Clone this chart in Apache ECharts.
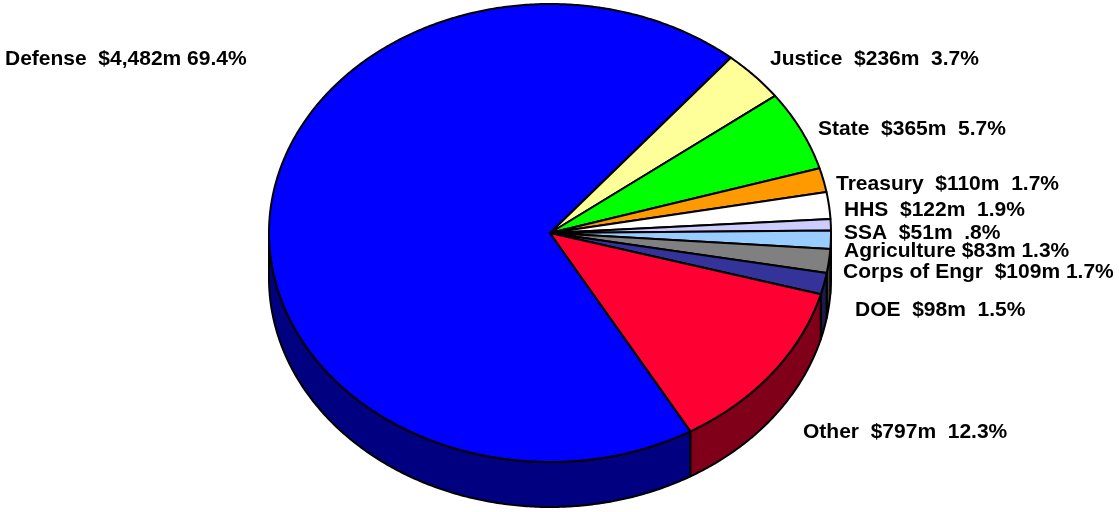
<!DOCTYPE html>
<html>
<head>
<meta charset="utf-8">
<script src="https://cdn.jsdelivr.net/npm/echarts@6/dist/echarts.min.js"></script>
<style>
html,body{margin:0;padding:0;background:#fff;}
#chart{width:1119px;height:512px;}
</style>
</head>
<body>
<div id="chart"></div>
<script>
// ---- data ----
const categories = ['Defense','Justice','State','Treasury','HHS','SSA','Agriculture','Corps of Engr','DOE','Other'];
const values = [4482, 236, 365, 110, 122, 51, 83, 109, 98, 797];
const percentLabels = ['69.4%','3.7%','5.7%','1.7%','1.9%','.8%','1.3%','1.7%','1.5%','12.3%'];
const labelTexts = [
  'Defense  $4,482m 69.4%',
  'Justice  $236m  3.7%',
  'State  $365m  5.7%',
  'Treasury  $110m  1.7%',
  'HHS  $122m  1.9%',
  'SSA  $51m  .8%',
  'Agriculture $83m 1.3%',
  'Corps of Engr  $109m 1.7%',
  'DOE  $98m  1.5%',
  'Other  $797m  12.3%'
];

// ---- styles / layout ----
const topColors  = ['#0000FF','#FFFF99','#00FF00','#FF9900','#FFFFFF','#CCCCFF','#99CCFF','#808080','#333399','#FF0033'];
const sideColors = ['#000080','#80804C','#008000','#804C00','#808080','#666680','#4C6680','#404040','#1A1A4C','#80001A'];
const labelAnchors = [[5,59.5],[770,59],[818,129],[836,184.5],[844,210],[844,233],[844,251],[843,272.5],[855,310.5],[803,432]];
const CX = 550, CY = 233, RX = 281, RY = 229, DEPTH = 45;
const START_DEG = 60; // screen angle (clockwise) where first slice starts

const total = values.reduce((a,b)=>a+b,0);
const cum = [];
values.reduce((acc,v,i)=>{cum[i]=acc;return acc+v;},0);

function angles(i, v){
  const a0 = (START_DEG*Math.PI/180) + cum[i]/total*2*Math.PI;
  const a1 = a0 + v/total*2*Math.PI;
  return [a0,a1];
}
function arcPts(a0,a1,dy){
  const pts=[];
  const n=Math.max(2,Math.ceil((a1-a0)/(Math.PI/360)));
  for(let k=0;k<=n;k++){
    const t=a0+(a1-a0)*k/n;
    pts.push([CX+RX*Math.cos(t), CY+RY*Math.sin(t)+dy]);
  }
  return pts;
}

const chart = echarts.init(document.getElementById('chart'), null, {renderer:'canvas'});
const data = categories.map((c,i)=>({name:c, value:values[i]}));

chart.setOption({
  backgroundColor:'#fff',
  animation:false,
  series:[
    {
      type:'custom',
      coordinateSystem:'none',
      silent:true,
      data:data,
      z:1,
      renderItem:function(params, api){
        const i=params.dataIndex;
        const v=api.value(0);
        let [a0,a1]=angles(i,v);
        const TWO=2*Math.PI;
        while(a0>=TWO){a0-=TWO;a1-=TWO;}
        const children=[];
        const ranges=[[0,Math.PI],[TWO,TWO+Math.PI]];
        ranges.forEach(r=>{
          const b0=Math.max(a0,r[0]), b1=Math.min(a1,r[1]);
          if(b1>b0){
            const top=arcPts(b0,b1,0);
            const bot=arcPts(b0,b1,DEPTH).reverse();
            children.push({
              type:'polygon',
              shape:{points:top.concat(bot)},
              style:{fill:sideColors[i], stroke:'#000', lineWidth:2, lineJoin:'round'}
            });
          }
        });
        return {type:'group', children:children};
      }
    },
    {
      type:'custom',
      coordinateSystem:'none',
      silent:true,
      data:data,
      z:2,
      renderItem:function(params, api){
        const i=params.dataIndex;
        const v=api.value(0);
        const [a0,a1]=angles(i,v);
        const pts=[[CX,CY]].concat(arcPts(a0,a1,0));
        return {type:'group', children:[
          {
            type:'polygon',
            shape:{points:pts},
            style:{fill:topColors[i], stroke:'#000', lineWidth:2, lineJoin:'round'}
          },
          {
            type:'text',
            style:{
              text:labelTexts[i],
              x:labelAnchors[i][0], y:labelAnchors[i][1],
              fill:'#000',
              font:'bold 21px "Liberation Sans", Arial, sans-serif',
              align:'left', verticalAlign:'middle'
            },
            z2:10
          }
        ]};
      }
    }
  ]
});
</script>
</body>
</html>
